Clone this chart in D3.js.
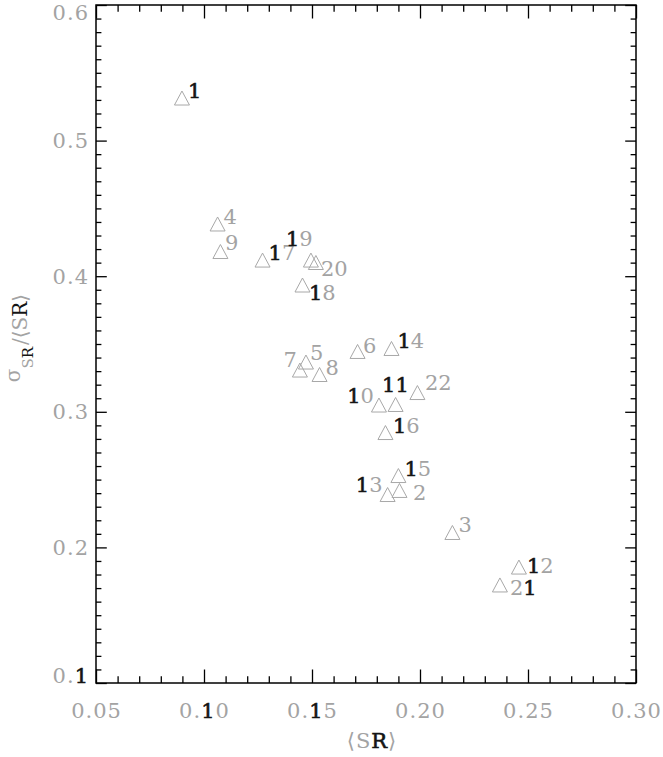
<!DOCTYPE html>
<html>
<head>
<meta charset="utf-8">
<script src="https://cdn.jsdelivr.net/npm/d3@7"></script>
<style>
  body { margin: 0; background: #fff; }
  svg text { font-family: "DejaVu Serif", "Liberation Serif", serif; }
</style>
</head>
<body>
<svg id="chart" width="663" height="757"></svg>
<script>
// point ids, mean SR and relative sigma
var pointIds = [1, 2, 3, 4, 5, 6, 7, 8, 9, 10, 11, 12, 13, 14, 15, 16, 17, 18, 19, 20, 21, 22];
var meanSR = [0.0898, 0.1905, 0.2150, 0.1063, 0.1472, 0.1711, 0.1444, 0.1535, 0.1076, 0.1810, 0.1887,
              0.2458, 0.1850, 0.1868, 0.1900, 0.1840, 0.1271, 0.1456, 0.1495, 0.1518, 0.2370, 0.1988];
var relSigma = [0.5314, 0.2420, 0.2110, 0.4385, 0.3367, 0.3445, 0.3308, 0.3275, 0.4182, 0.3050, 0.3054,
                0.1855, 0.2390, 0.3467, 0.2530, 0.2847, 0.4119, 0.3935, 0.4119, 0.4101, 0.1723, 0.3142];

var xTickValues = [0.05, 0.10, 0.15, 0.20, 0.25, 0.30];
var xTickLabels = ["0.05", "0.10", "0.15", "0.20", "0.25", "0.30"];
var yTickValues = [0.1, 0.2, 0.3, 0.4, 0.5, 0.6];
var yTickLabels = ["0.1", "0.2", "0.3", "0.4", "0.5", "0.6"];

// label placement relative to the marker (layout only)
var labelNudge = {
  2: [13.5, 9.5], 5: [4, -2], 6: [5.5, 1.5], 7: [-3, -3, "end"], 9: [4.5, -1.5],
  10: [-5, -2, "end"], 11: [-13.5, -12.5], 12: [8, 6], 13: [-5, -2.5, "end"],
  16: [7.5, 0], 18: [6.5, 14.5], 19: [-25, -14], 20: [5, 13], 21: [10, 10], 22: [7.5, -2.5]
};

var GRAY = "#a3a3a3", DARK = "#151515";
var margin = { top: 5, right: 27, bottom: 74, left: 96 };
var width = 663 - margin.left - margin.right;
var height = 757 - margin.top - margin.bottom;

var svg = d3.select("#chart");
var g = svg.append("g").attr("transform", "translate(" + margin.left + "," + margin.top + ")");

var x = d3.scaleLinear().domain([0.05, 0.30]).range([0, width]);
var y = d3.scaleLinear().domain([0.1, 0.6]).range([height, 0]);

// "1" and "R" come out dark in the original, everything else gray
function richText(sel, str) {
  var runs = [];
  str.split("").forEach(function (ch) {
    var dark = (ch === "1" || ch === "R");
    if (runs.length && runs[runs.length - 1].dark === dark) runs[runs.length - 1].s += ch;
    else runs.push({ s: ch, dark: dark });
  });
  runs.forEach(function (r) {
    var t = sel.append("tspan").attr("fill", r.dark ? DARK : GRAY).text(r.s);
    if (r.dark) t.attr("stroke", DARK).attr("stroke-width", 0.6);
  });
  return sel;
}

var xMinor = d3.range(5, 31).filter(function (i) { return i % 5 !== 0; }).map(function (i) { return i / 100; });
var yMinor = d3.range(10, 61).filter(function (i) { return i % 10 !== 0; }).map(function (i) { return i / 100; });

function ticks(axisFn, scale, vals, len, tr) {
  var a = g.append("g").attr("transform", tr || null)
    .call(axisFn(scale).tickValues(vals).tickSize(len).tickSizeOuter(0).tickFormat(""));
  a.select(".domain").remove();
  a.selectAll("line").attr("stroke", "#000").attr("stroke-width", 1.3);
}
ticks(d3.axisBottom, x, xTickValues, -13.5, "translate(0," + height + ")");
ticks(d3.axisBottom, x, xMinor, -6.8, "translate(0," + height + ")");
ticks(d3.axisTop, x, xTickValues, -13.5);
ticks(d3.axisTop, x, xMinor, -6.8);
ticks(d3.axisLeft, y, yTickValues, -10.8);
ticks(d3.axisLeft, y, yMinor, -5.4);
ticks(d3.axisRight, y, yTickValues, -10.8, "translate(" + width + ",0)");
ticks(d3.axisRight, y, yMinor, -5.4, "translate(" + width + ",0)");

g.append("rect").attr("width", width).attr("height", height)
  .attr("fill", "none").attr("stroke", "#000").attr("stroke-width", 1.5);

// tick labels
xTickValues.forEach(function (v, i) {
  richText(g.append("text")
    .attr("x", x(v) + 0.5).attr("y", height + 35)
    .attr("text-anchor", "middle").attr("font-size", 21).attr("letter-spacing", 1), xTickLabels[i]);
});
yTickValues.forEach(function (v, i) {
  var off = i === 0 ? 0 : (i === yTickValues.length - 1 ? 15 : 7.5);
  richText(g.append("text")
    .attr("x", -7).attr("y", y(v) + off)
    .attr("text-anchor", "end").attr("font-size", 21).attr("letter-spacing", 1), yTickLabels[i]);
});

// axis titles
richText(svg.append("text")
  .attr("x", 372).attr("y", 748).attr("text-anchor", "middle")
  .attr("font-size", 21).attr("letter-spacing", 1), "\u27E8SR\u27E9");

var yt = svg.append("text")
  .attr("transform", "translate(27,338) rotate(-90)")
  .attr("text-anchor", "middle").attr("font-size", 20);
yt.append("tspan").attr("fill", GRAY).attr("dy", -7).text("\u03C3");
yt.append("tspan").attr("fill", GRAY).attr("dy", 13).attr("font-size", 15).text("S");
yt.append("tspan").attr("fill", DARK).attr("font-size", 15).text("R");
yt.append("tspan").attr("fill", GRAY).attr("dy", -6).attr("dx", 2).text("/\u27E8S");
yt.append("tspan").attr("fill", DARK).text("R");
yt.append("tspan").attr("fill", GRAY).text("\u27E9");

// markers
var pts = pointIds.map(function (id, i) { return { id: id, sr: meanSR[i], sig: relSigma[i] }; });
var tri = "M0,-7L7.5,7L-7.5,7Z";

var pg = g.selectAll(".pt").data(pts).enter().append("g")
  .attr("class", "pt")
  .attr("transform", function (d) { return "translate(" + x(d.sr) + "," + y(d.sig) + ")"; });

pg.append("path").attr("d", tri).attr("fill", "none").attr("stroke", "#a8a8a8").attr("stroke-width", 1);

pg.each(function (d) {
  var n = labelNudge[d.id] || [6, 0];
  richText(d3.select(this).append("text")
    .attr("x", n[0]).attr("y", n[1])
    .attr("text-anchor", n[2] || "start")
    .attr("font-size", 21), String(d.id));
});
</script>
</body>
</html>
